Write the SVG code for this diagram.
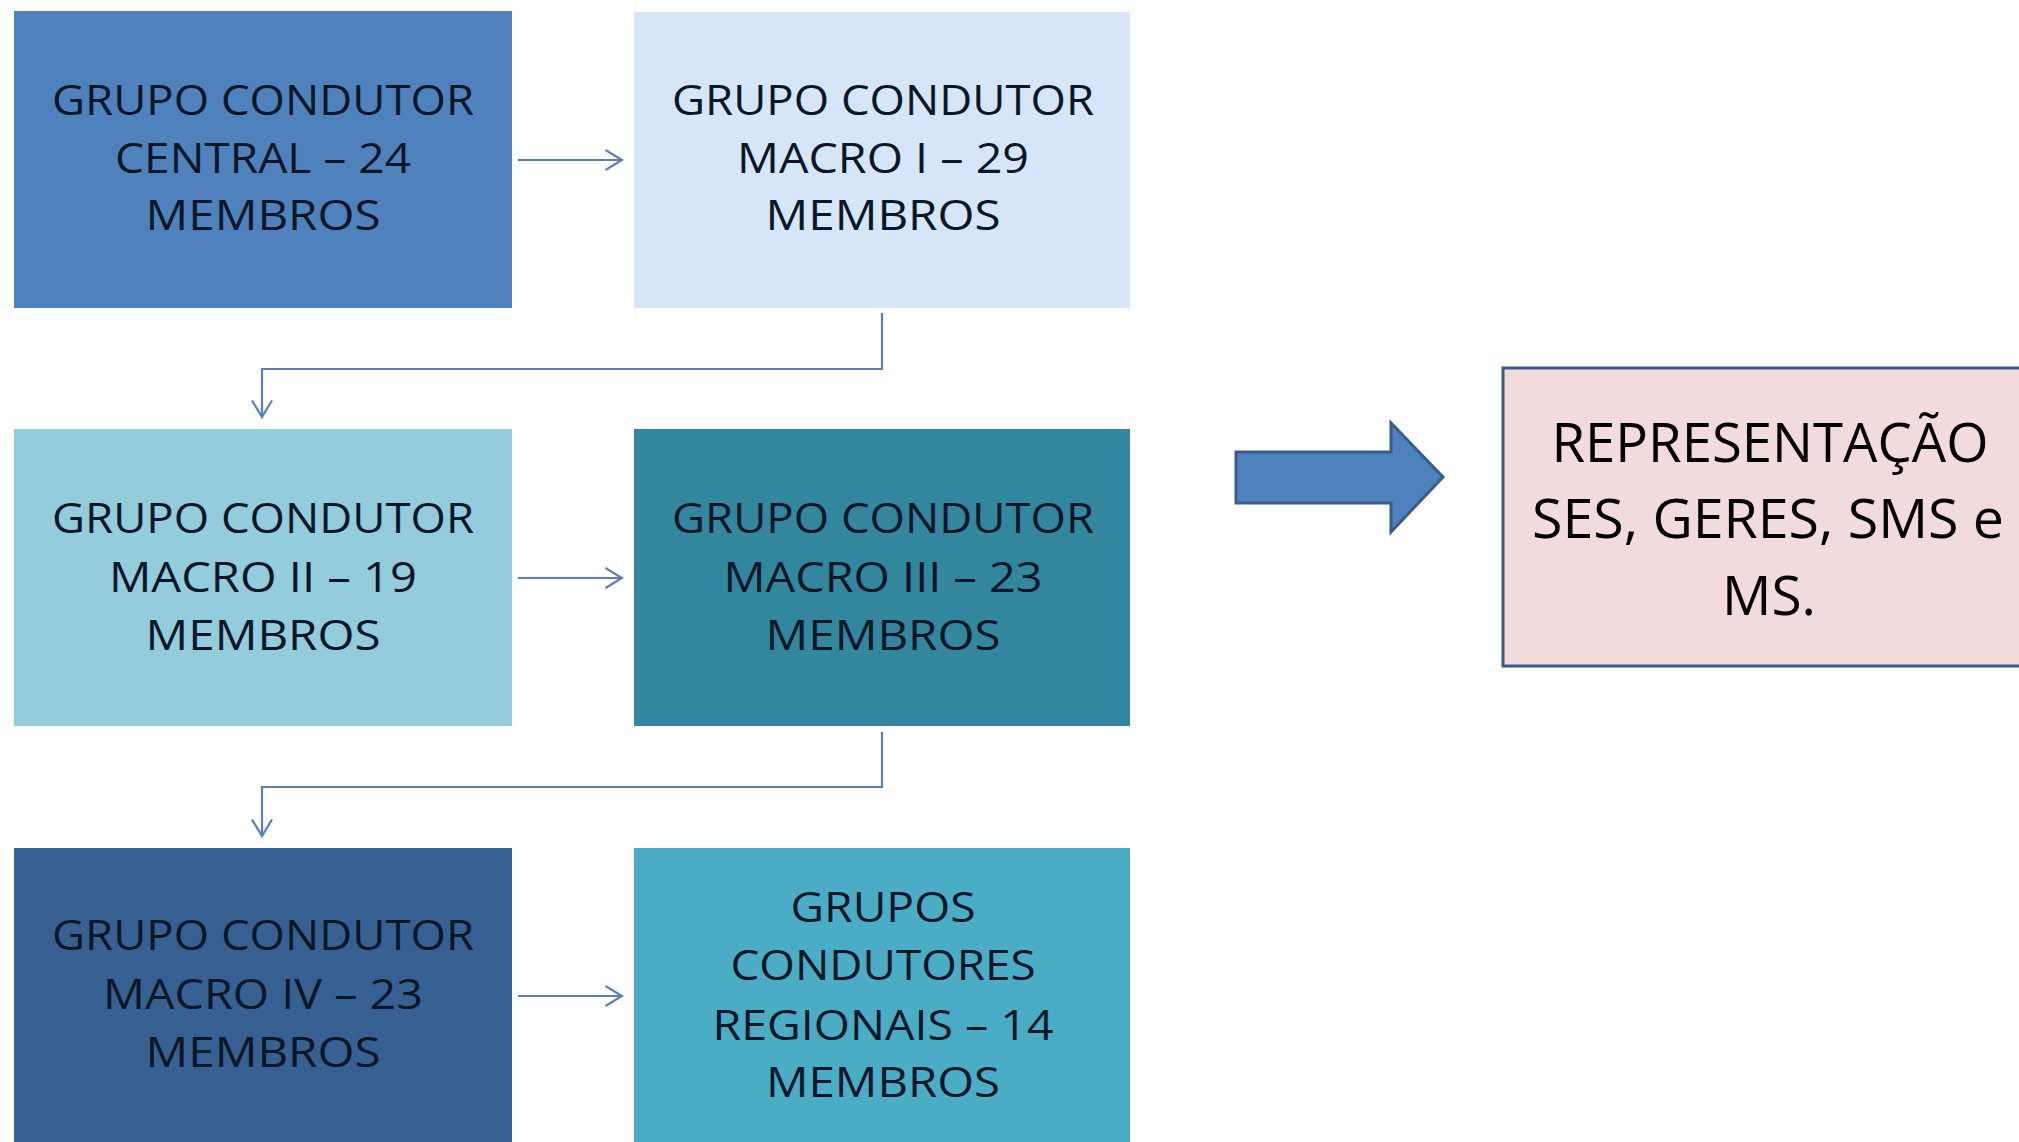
<svg xmlns="http://www.w3.org/2000/svg" width="2019" height="1142" viewBox="0 0 2019 1142">
<style>
.t{font-family:"Open Sans","Liberation Sans",sans-serif;font-size:42px;fill:#0b1626;text-anchor:middle}
.p{font-family:"Open Sans","Liberation Sans",sans-serif;font-size:54px;fill:#000;text-anchor:middle}
.c{fill:none;stroke:#5a7fb8;stroke-width:2.2}
</style>
<defs>
<marker id="a" viewBox="0 0 19 22" refX="17.5" refY="11" markerWidth="19" markerHeight="22" markerUnits="userSpaceOnUse" orient="auto">
<polyline points="1,1 17.5,11 1,21" fill="none" stroke="#5a7fb8" stroke-width="2.2"/>
</marker>
</defs>
<rect width="2019" height="1142" fill="#fff"/>
<g id="connectors">
<line class="c" x1="518" y1="160" x2="622" y2="160" marker-end="url(#a)"/>
<polyline class="c" points="882,313 882,369 262,369 262,417" marker-end="url(#a)"/>
<line class="c" x1="518" y1="578" x2="622" y2="578" marker-end="url(#a)"/>
<polyline class="c" points="882,732 882,787 262,787 262,836" marker-end="url(#a)"/>
<line class="c" x1="518" y1="996" x2="622" y2="996" marker-end="url(#a)"/>
<path d="M1236,452 H1391 V423 L1443,477 L1391,532 V503 H1236 Z" fill="#4f81bd" stroke="#385d8a" stroke-width="3"/>
</g>
<g id="n1">
<rect x="14" y="11" width="498" height="297" fill="#4f81bd"/>
<text class="t" x="263" y="115" textLength="422" lengthAdjust="spacingAndGlyphs">GRUPO CONDUTOR</text>
<text class="t" x="263" y="173" textLength="296" lengthAdjust="spacingAndGlyphs">CENTRAL – 24</text>
<text class="t" x="263" y="230" textLength="235" lengthAdjust="spacingAndGlyphs">MEMBROS</text>
</g>
<g id="n2">
<rect x="634" y="12" width="496" height="296" fill="#d7e5f8"/>
<text class="t" x="883" y="115" textLength="422" lengthAdjust="spacingAndGlyphs">GRUPO CONDUTOR</text>
<text class="t" x="883" y="173" textLength="292" lengthAdjust="spacingAndGlyphs">MACRO I – 29</text>
<text class="t" x="883" y="230" textLength="235" lengthAdjust="spacingAndGlyphs">MEMBROS</text>
</g>
<g id="n3">
<rect x="14" y="429" width="498" height="297" fill="#93cddd"/>
<text class="t" x="263" y="533" textLength="422" lengthAdjust="spacingAndGlyphs">GRUPO CONDUTOR</text>
<text class="t" x="263" y="592" textLength="308" lengthAdjust="spacingAndGlyphs">MACRO II – 19</text>
<text class="t" x="263" y="650" textLength="235" lengthAdjust="spacingAndGlyphs">MEMBROS</text>
</g>
<g id="n4">
<rect x="634" y="429" width="496" height="297" fill="#32869d"/>
<text class="t" x="883" y="533" textLength="422" lengthAdjust="spacingAndGlyphs">GRUPO CONDUTOR</text>
<text class="t" x="883" y="592" textLength="319" lengthAdjust="spacingAndGlyphs">MACRO III – 23</text>
<text class="t" x="883" y="650" textLength="235" lengthAdjust="spacingAndGlyphs">MEMBROS</text>
</g>
<g id="n5">
<rect x="14" y="848" width="498" height="294" fill="#376092"/>
<text class="t" x="263" y="950" textLength="422" lengthAdjust="spacingAndGlyphs">GRUPO CONDUTOR</text>
<text class="t" x="263" y="1009" textLength="320" lengthAdjust="spacingAndGlyphs">MACRO IV – 23</text>
<text class="t" x="263" y="1067" textLength="235" lengthAdjust="spacingAndGlyphs">MEMBROS</text>
</g>
<g id="n6">
<rect x="634" y="848" width="496" height="294" fill="#4bacc6"/>
<text class="t" x="883" y="922" textLength="185" lengthAdjust="spacingAndGlyphs">GRUPOS</text>
<text class="t" x="883" y="980" textLength="305" lengthAdjust="spacingAndGlyphs">CONDUTORES</text>
<text class="t" x="883" y="1040" textLength="341" lengthAdjust="spacingAndGlyphs">REGIONAIS – 14</text>
<text class="t" x="883" y="1097" textLength="234" lengthAdjust="spacingAndGlyphs">MEMBROS</text>
</g>
<g id="n7">
<rect x="1503" y="368" width="540" height="298" fill="#f2dcdb" stroke="#385d8a" stroke-width="3"/>
<text class="p" x="1770" y="462" textLength="437" lengthAdjust="spacingAndGlyphs">REPRESENTAÇÃO</text>
<text class="p" x="1768" y="538" textLength="472" lengthAdjust="spacingAndGlyphs">SES, GERES, SMS e</text>
<text class="p" x="1769" y="615" textLength="94" lengthAdjust="spacingAndGlyphs">MS.</text>
</g>
</svg>
